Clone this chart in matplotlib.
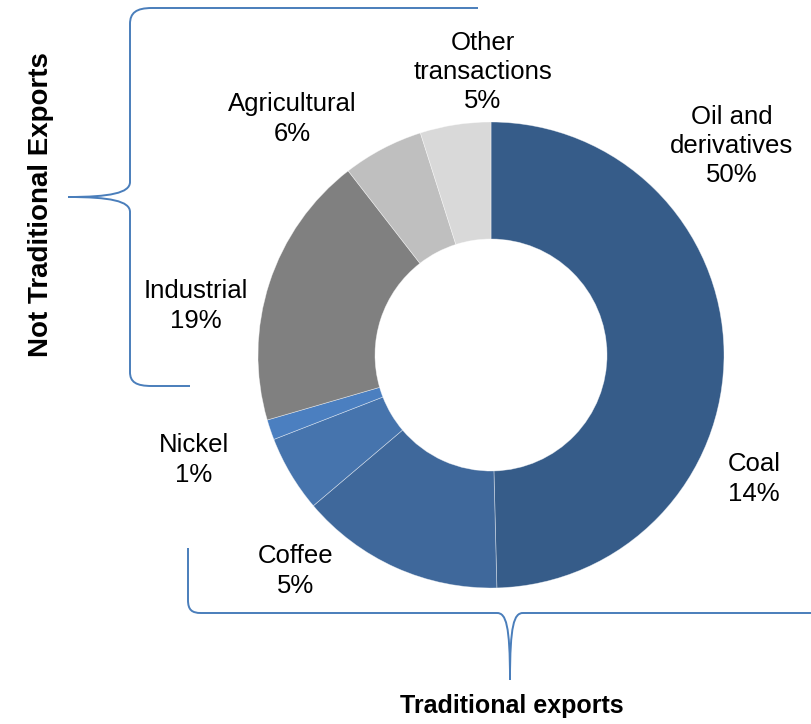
import numpy as np
import matplotlib.pyplot as plt
from matplotlib.path import Path
from matplotlib.patches import PathPatch

# === Data ===
categories = ["Oil and\nderivatives", "Coal", "Coffee", "Nickel",
              "Industrial", "Agricultural", "Other\ntransactions"]
shares = [49.6, 14.2, 5.3, 1.4, 19.0, 5.6, 4.9]
colors = ["#365C89", "#3F689B", "#4674AD", "#4B7FC0",
          "#808080", "#BFBFBF", "#D9D9D9"]
# label centres in pixel coords (x, y from top)
label_pos = [(732, 146), (754, 479), (296, 571), (194, 460),
             (196, 306), (292, 119), (483, 72)]

plt.rcParams['font.family'] = ['Liberation Sans', 'DejaVu Sans']

W, H = 812, 724
fig = plt.figure(figsize=(W / 100, H / 100), dpi=100)
ax = fig.add_axes([0, 0, 1, 1])

# pixel-like data coords, y pointing down -> counterclock=True draws clockwise on screen
ax.pie(shares, colors=colors, startangle=270, counterclock=True,
       center=(491, 355), radius=233, frame=True,
       wedgeprops=dict(width=117, edgecolor=(1, 1, 1, 0.5), linewidth=0.5))
ax.set_xlim(0, W)
ax.set_ylim(H, 0)
ax.set_aspect('equal')
ax.axis('off')

for name, v, (x, y) in zip(categories, shares, label_pos):
    ax.text(x, y, f"{name}\n{round(v):d}%", ha='center', va='center',
            fontsize=18.5, color='black', linespacing=1.28)

# === Braces ===
brace_col = "#4A7EBB"
M, L, C = Path.MOVETO, Path.LINETO, Path.CURVE4

left_brace = [
    ((478, 8), M), ((152, 8), L),
    ((136, 8), C), ((130, 13), C), ((130, 24), C),
    ((130, 182), L),
    ((130, 193), C), ((110, 197), C), ((68, 197), C),
    ((110, 197), C), ((130, 201), C), ((130, 212), C),
    ((130, 372), L),
    ((130, 382), C), ((136, 386), C), ((152, 386), C),
    ((190, 386), L),
]
bottom_brace = [
    ((188, 548), M), ((188, 600), L),
    ((188, 610), C), ((192, 613), C), ((201, 613), C),
    ((497, 613), L),
    ((506, 613), C), ((510, 625), C), ((510, 680), C),
    ((510, 625), C), ((514, 613), C), ((523, 613), C),
    ((812, 613), L),
]
for pts in (left_brace, bottom_brace):
    verts = [p for p, _ in pts]
    codes = [c for _, c in pts]
    ax.add_patch(PathPatch(Path(verts, codes), facecolor='none',
                           edgecolor=brace_col, linewidth=1.4))

ax.text(41, 205, "Not Traditional Exports", rotation=90, ha='center', va='center',
        fontsize=20, fontweight='bold')
ax.text(512, 706, "Traditional exports", ha='center', va='center',
        fontsize=18, fontweight='bold')

fig.savefig("out.png", dpi=100)
